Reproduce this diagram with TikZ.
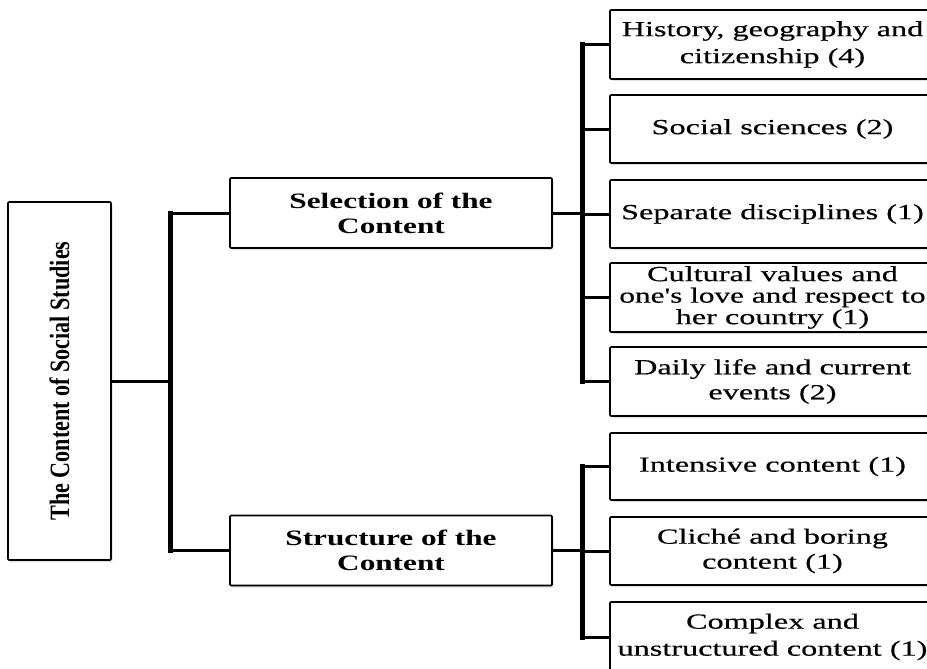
\documentclass[tikz,border=0pt]{standalone}
\usepackage{fontspec}
\setmainfont{Liberation Serif}
\newfontfamily\widefont{Liberation Serif}[FakeStretch=1.5, FakeBold=0.4]
\newfontfamily\boldwide{Liberation Serif}[FakeStretch=1.42]
\newfontfamily\narrowfont{Liberation Serif}[FakeStretch=0.79]
\usetikzlibrary{shadows}
\tikzset{
  box/.style={draw=black, line width=1.6pt, fill=white, inner sep=0pt,
    align=center, rounded corners=1pt,
    drop shadow={shadow xshift=1.5pt, shadow yshift=-2pt, opacity=0.25, fill=gray}},
  leafbox/.style={box, minimum width=325, minimum height=68,
    font=\widefont\fontsize{21.5}{25}\selectfont},
  midbox/.style={box, minimum width=322, minimum height=70,
    font=\boldwide\bfseries\fontsize{22}{25}\selectfont},
  rootbox/.style={box, minimum width=103, minimum height=358},
  branch/.style={line width=3pt},
  trunk/.style={line width=5pt, line cap=rect}
}
\begin{document}
\begin{tikzpicture}[x=1pt, y=-1pt]
  \useasboundingbox (0,0) rectangle (927,669);
  \clip (0,0) rectangle (927,669);
  \fill[white] (0,0) rectangle (927,669);

  % root, rotated caption
  \node[rootbox] (root) at (59.5,381) {};
  \node[rotate=90, font=\narrowfont\bfseries\fontsize{28}{30}\selectfont]
    (roottext) at (root.center) {The Content of Social Studies};

  % second level
  \node[midbox] (sel) at (391,213) {Selection of the\\Content};
  \node[midbox] (str) at (391,550.5) {Structure of the\\Content};

  % leaves under the selection branch
  \node[leafbox, minimum height=69, font=\widefont\fontsize{21.5}{27}\selectfont]
    (b1) at (772.5,44.5) {History, geography and\\citizenship (4)};
  \node[leafbox] (b2) at (772.5,129) {Social sciences (2)};
  \node[leafbox] (b3) at (772.5,214) {Separate disciplines (1)};
  \node[leafbox, minimum height=69, font=\widefont\fontsize{21.5}{21.5}\selectfont]
    (b4) at (772.5,297.5)
    {Cultural values and\\\scalebox{0.97}[1]{one's love and respect to}\\her country (1)};
  \node[leafbox, minimum height=69] (b5) at (772.5,381.5) {Daily life and current\\events (2)};

  % leaves under the structure branch
  \node[leafbox, minimum height=67] (b6) at (772.5,466.5) {Intensive content (1)};
  \node[leafbox] (b7) at (772.5,551) {Clich\'e and boring\\content (1)};
  \node[leafbox, minimum height=70, font=\widefont\fontsize{21.5}{27}\selectfont]
    (b8) at (772.5,637) {Complex and\\unstructured content (1)};

  % junction columns
  \coordinate (j0) at (170,0);
  \coordinate (j1) at (582,0);

  % root to second level
  \draw[branch] (root.east) -- (j0 |- root.east);
  \draw[trunk] (j0 |- sel.west) -- (j0 |- str.west);
  \draw[branch] (j0 |- sel.west) -- (sel.west);
  \draw[branch] (j0 |- str.west) -- (str.west);

  % selection to its leaves
  \draw[branch] (sel.east) -- (j1 |- sel.east);
  \draw[trunk] (j1 |- b1.west) -- (j1 |- b5.west);
  \foreach \n in {b1,b2,b3,b4,b5}
    \draw[branch] (j1 |- \n.west) -- (\n.west);

  % structure to its leaves
  \draw[branch] (str.east) -- (j1 |- str.east);
  \draw[trunk] (j1 |- b6.west) -- (j1 |- b8.west);
  \foreach \n in {b6,b7,b8}
    \draw[branch] (j1 |- \n.west) -- (\n.west);
\end{tikzpicture}
\end{document}
